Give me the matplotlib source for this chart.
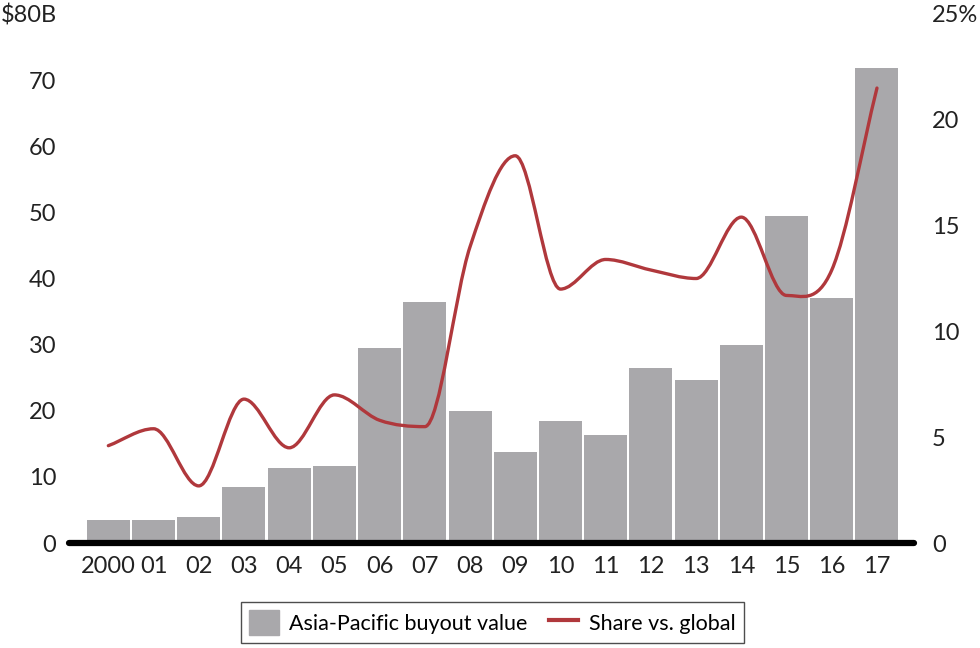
import matplotlib.pyplot as plt
import numpy as np
from matplotlib.path import Path
from matplotlib.patches import PathPatch
from matplotlib.lines import Line2D

plt.rcParams["font.family"] = ["Lato", "DejaVu Sans"]

# data
years = ["2000", "01", "02", "03", "04", "05", "06", "07", "08", "09",
         "10", "11", "12", "13", "14", "15", "16", "17"]
buyout_value = [3.5, 3.5, 4.0, 8.5, 11.3, 11.7, 29.5, 36.5, 20.0, 13.7,
                18.5, 16.3, 26.5, 24.7, 30.0, 49.5, 37.0, 71.8]
share_global = [4.6, 5.4, 2.7, 6.8, 4.5, 7.0, 5.8, 5.5, 14.0, 18.3,
                 12.0, 13.4, 12.9, 12.5, 15.4, 11.7, 12.9, 21.5]
left_ticks = [0, 10, 20, 30, 40, 50, 60, 70, 80]
left_labels = ["0", "10", "20", "30", "40", "50", "60", "70", "$80B"]
right_ticks = [0, 5, 10, 15, 20, 25]
right_labels = ["0", "5", "10", "15", "20", "25%"]

bar_color = "#a9a8ab"
line_color = "#b0383c"

fig = plt.figure(figsize=(9.8, 6.48), dpi=100)
ax = fig.add_axes([0.0704, 0.162, 0.8623, 0.8164])
x = np.arange(len(years))

ax.bar(x, buyout_value, width=0.95, color=bar_color, edgecolor="none", zorder=1)
ax.set_xlim(-0.87, 17.82)
ax.set_ylim(0, 80)
ax.set_yticks(left_ticks)
ax.set_yticklabels(left_labels)
ax.set_xticks(x)
ax.set_xticklabels(years)
ax.tick_params(axis="x", length=0, pad=9, labelsize=17, colors="#222222")
ax.tick_params(axis="y", length=0, pad=9, labelsize=17, colors="#222222")
for s in ["top", "right", "left"]:
    ax.spines[s].set_visible(False)
ax.spines["bottom"].set_linewidth(4.5)
ax.spines["bottom"].set_color("black")
ax.spines["bottom"].set_capstyle("round")

ax2 = ax.twinx()
ax2.set_ylim(0, 25)
ax2.set_yticks(right_ticks)
ax2.set_yticklabels(right_labels)
ax2.tick_params(axis="y", length=0, pad=13, labelsize=17, colors="#222222")
for s in ax2.spines.values():
    s.set_visible(False)

# smooth curve through the share points, drawn as bezier segments
# tangent: mean slope, flat at local extremes
yv = np.array(share_global, dtype=float)
d = np.diff(yv)
m = np.zeros_like(yv)
m[0], m[-1] = d[0], d[-1]
for i in range(1, len(yv) - 1):
    if d[i - 1] * d[i] > 0:
        m[i] = (d[i - 1] + d[i]) / 2
verts = [(x[0], yv[0])]
codes = [Path.MOVETO]
for i in range(len(yv) - 1):
    verts += [(x[i] + 1 / 3, yv[i] + m[i] / 3),
              (x[i + 1] - 1 / 3, yv[i + 1] - m[i + 1] / 3),
              (x[i + 1], yv[i + 1])]
    codes += [Path.CURVE4] * 3
ax2.add_patch(PathPatch(Path(verts, codes), fill=False, edgecolor=line_color,
                        linewidth=2.4, capstyle="round", joinstyle="round"))

handles = [plt.Rectangle((0, 0), 1, 1, color=bar_color),
           Line2D([0], [0], color=line_color, linewidth=3)]
leg = fig.legend(handles, ["Asia-Pacific buyout value", "Share vs. global"],
                 loc="center", bbox_to_anchor=(0.5026, 0.0394), ncol=2,
                 fontsize=15.5, frameon=True, fancybox=False, handlelength=1.35,
                 handleheight=1.35, handletextpad=0.5, columnspacing=1.0,
                 borderpad=0.4)
leg.get_frame().set_edgecolor("#222222")
leg.get_frame().set_linewidth(1.0)

fig.savefig("out.png", dpi=100)
